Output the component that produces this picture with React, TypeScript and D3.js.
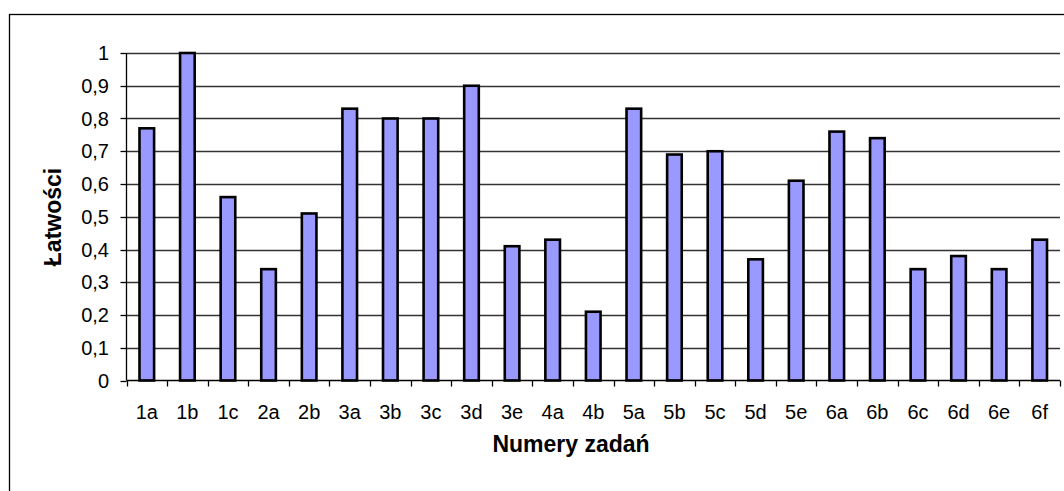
import * as d3 from "d3";
import React, { useEffect, useRef } from "react";

const categories = ["1a", "1b", "1c", "2a", "2b", "3a", "3b", "3c", "3d", "3e", "4a", "4b", "5a", "5b", "5c", "5d", "5e", "6a", "6b", "6c", "6d", "6e", "6f"];
const values = [0.77, 1.0, 0.56, 0.34, 0.51, 0.83, 0.8, 0.8, 0.9, 0.41, 0.43, 0.21, 0.83, 0.69, 0.7, 0.37, 0.61, 0.76, 0.74, 0.34, 0.38, 0.34, 0.43];
const yTicks = [0, 0.1, 0.2, 0.3, 0.4, 0.5, 0.6, 0.7, 0.8, 0.9, 1];
const xTitle = "Numery zadań";
const yTitle = "Łatwości";

export default function App() {
    const ref = useRef<SVGSVGElement>(null);
    const W = 1064, H = 491;

    useEffect(() => {
        const svg = d3.select(ref.current);
        svg.selectAll("*").remove();
        const font = "'Liberation Sans', Arial, sans-serif";

        // chart frame
        svg.append("rect")
            .attr("x", 9.5).attr("y", 14.5)
            .attr("width", W + 20).attr("height", H + 20)
            .attr("fill", "#fff").attr("stroke", "#000").attr("stroke-width", 1.3);

        const left = 126.5, right = 1060, top = 53, bottom = 380.5;
        const x = d3.scaleBand().domain(categories).range([left, right]);
        const y = d3.scaleLinear().domain([0, 1]).range([bottom, top]);

        const g = svg.append("g");

        // gridlines
        g.selectAll(".grid")
            .data(yTicks.slice(1))
            .join("line")
            .attr("x1", left).attr("x2", right)
            .attr("y1", (d) => Math.round(y(d)) + 0.5).attr("y2", (d) => Math.round(y(d)) + 0.5)
            .attr("stroke", "#333").attr("stroke-width", 1.3);

        // y axis line + ticks + labels
        g.append("line")
            .attr("x1", left).attr("x2", left).attr("y1", top).attr("y2", bottom)
            .attr("stroke", "#000").attr("stroke-width", 1.3);
        g.selectAll(".ytick")
            .data(yTicks)
            .join("line")
            .attr("x1", left - 6).attr("x2", left)
            .attr("y1", (d) => Math.round(y(d)) + 0.5).attr("y2", (d) => Math.round(y(d)) + 0.5)
            .attr("stroke", "#000").attr("stroke-width", 1.3);
        g.selectAll(".ylab")
            .data(yTicks)
            .join("text")
            .attr("x", 109).attr("y", (d) => y(d))
            .attr("dy", "0.36em")
            .attr("text-anchor", "end")
            .style("font-family", font).style("font-size", "20px")
            .text((d) => String(d).replace(".", ","));

        // bars
        const bw = x.bandwidth() * 0.36;
        g.selectAll(".bar")
            .data(values)
            .join("rect")
            .attr("x", (d, i) => x(categories[i])! + x.bandwidth() / 2 - bw / 2)
            .attr("y", (d) => y(d))
            .attr("width", bw)
            .attr("height", (d) => y(0) - y(d))
            .attr("fill", "#9999ff")
            .attr("stroke", "#000").attr("stroke-width", 2.6);

        // x axis line + ticks + labels
        g.append("line")
            .attr("x1", left).attr("x2", right).attr("y1", bottom).attr("y2", bottom)
            .attr("stroke", "#000").attr("stroke-width", 1.3);
        g.selectAll(".xtick")
            .data([...categories.map((c) => x(c)!), right])
            .join("line")
            .attr("x1", (d) => Math.round(d) + 0.5).attr("x2", (d) => Math.round(d) + 0.5)
            .attr("y1", bottom).attr("y2", bottom + 6)
            .attr("stroke", "#000").attr("stroke-width", 1.3);
        g.selectAll(".xlab")
            .data(categories)
            .join("text")
            .attr("x", (d) => x(d)! + x.bandwidth() / 2)
            .attr("y", 419)
            .attr("text-anchor", "middle")
            .style("font-family", font).style("font-size", "20px")
            .text((d) => d);

        // titles
        svg.append("text")
            .attr("x", 571).attr("y", 452)
            .attr("text-anchor", "middle")
            .style("font-family", font).style("font-size", "23px").style("font-weight", "bold")
            .text(xTitle);
        svg.append("text")
            .attr("transform", `translate(61, 217) rotate(-90)`)
            .attr("text-anchor", "middle")
            .style("font-family", font).style("font-size", "23px").style("font-weight", "bold")
            .text(yTitle);
    }, []);

    return (
        <svg ref={ref} width={W} height={H}
            style={{ position: "absolute", left: 0, top: 0, background: "#fff" }} />
    );
}
